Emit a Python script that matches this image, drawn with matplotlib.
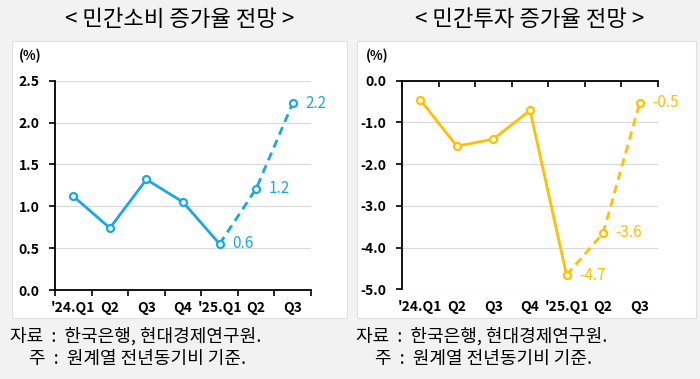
import matplotlib.pyplot as plt
from matplotlib.patches import Rectangle

plt.rcParams['font.family'] = ['Noto Sans CJK KR', 'DejaVu Sans']

quarters = ["'24.Q1", "Q2", "Q3", "Q4", "'25.Q1", "Q2", "Q3"]
consumption = [1.12, 0.74, 1.32, 1.05, 0.55, 1.21, 2.23]
investment = [-0.46, -1.57, -1.40, -0.71, -4.66, -3.65, -0.53]
consumption_labels = ["0.6", "1.2", "2.2"]
investment_labels = ["-4.7", "-3.6", "-0.5"]

blue = "#1aa8e3"
yellow = "#ffc000"

fig = plt.figure(figsize=(7, 3.79), dpi=100)
fig.patch.set_facecolor("#f2f2f2")

# white panels
for x0, x1 in [(12, 347), (357, 696)]:
    fig.patches.append(Rectangle((x0 / 700, 1 - 318 / 379), (x1 - x0) / 700, (318 - 41) / 379,
                                 transform=fig.transFigure, facecolor="white",
                                 edgecolor="#e0e0e0", lw=0.8, zorder=-5))

fig.text(180 / 700, 1 - 19 / 379, "< 민간소비 증가율 전망 >", ha="center", va="center", fontsize=16)
fig.text(530 / 700, 1 - 19 / 379, "< 민간투자 증가율 전망 >", ha="center", va="center", fontsize=16)

for x0 in [10, 356]:
    fig.text(x0 / 700, 1 - 336 / 379, "자료  :  한국은행, 현대경제연구원.", ha="left", va="center", fontsize=13)
    fig.text((x0 + 19) / 700, 1 - 359 / 379, "주  :  원계열 전년동기비 기준.", ha="left", va="center", fontsize=13)


def draw(ax, vals, labels, color):
    ax.patch.set_alpha(0)
    x = list(range(len(vals)))
    ax.plot(x[:5], vals[:5], color=color, lw=2, zorder=3)
    ax.plot(x[4:], vals[4:], color=color, lw=2, ls=(0, (3, 2)), zorder=3)
    ax.plot(x, vals, ls="none", marker="o", ms=5, mfc="white", mec=color, mew=1.6, zorder=4)
    for i, t in zip(x[4:], labels):
        ax.annotate(t, (i, vals[i]), xytext=(9, 0), textcoords="offset points",
                    va="center", ha="left", color=color, fontsize=11)
    ax.set_xlim(-0.5, 6.5)
    ax.set_xticks(x)
    ax.set_xticklabels(quarters, fontsize=10, fontweight="bold")
    ax.set_xticks([i - 0.5 for i in range(8)], minor=True)
    ax.tick_params(axis="x", which="major", length=0, pad=8)
    ax.tick_params(axis="y", length=4, width=1.2, labelsize=10, pad=7)
    for lab in ax.get_yticklabels():
        lab.set_fontweight("bold")
    ax.spines["right"].set_visible(False)
    ax.spines["left"].set_linewidth(1.3)
    ax.grid(axis="y", color="#d9d9d9", lw=0.8)
    ax.set_axisbelow(True)


ax1 = fig.add_axes([55 / 700, 1 - 290 / 379, 256 / 700, 209.3 / 379])
ax1.set_ylim(0, 2.5)
ax1.set_yticks([0, 0.5, 1.0, 1.5, 2.0, 2.5])
ax1.set_yticklabels(["0.0", "0.5", "1.0", "1.5", "2.0", "2.5"])
draw(ax1, consumption, consumption_labels, blue)
ax1.spines["top"].set_visible(False)
ax1.spines["bottom"].set_linewidth(1.3)
ax1.tick_params(axis="x", which="minor", length=4, width=1.2, direction="out")
ax1.text(-0.14, 1.1, "(%)", transform=ax1.transAxes, fontsize=9.5, fontweight="bold")

ax2 = fig.add_axes([402 / 700, 1 - 289.3 / 379, 256 / 700, 208.6 / 379])
ax2.set_ylim(-5, 0)
ax2.set_yticks([0, -1, -2, -3, -4, -5])
ax2.set_yticklabels(["0.0", "-1.0", "-2.0", "-3.0", "-4.0", "-5.0"])
draw(ax2, investment, investment_labels, yellow)
ax2.spines["bottom"].set_visible(False)
ax2.spines["top"].set_linewidth(1.3)
ax2.tick_params(axis="x", which="minor", bottom=False, top=True, length=4, width=1.2, direction="in")
ax2.text(-0.14, 1.1, "(%)", transform=ax2.transAxes, fontsize=9.5, fontweight="bold")

fig.savefig("out.png", dpi=100, facecolor=fig.get_facecolor())
